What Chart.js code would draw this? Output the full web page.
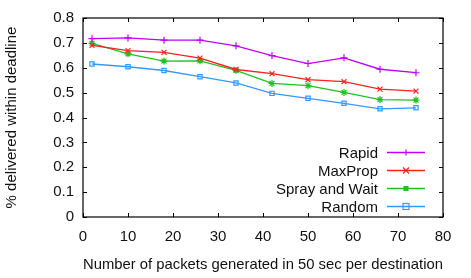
<!DOCTYPE html>
<html lang="en">
<head>
  <meta charset="UTF-8">
  <title>Delivery within deadline</title>
  <script src="https://cdn.jsdelivr.net/npm/chart.js"></script>
  <style>
    html, body { margin: 0; padding: 0; background: #fff; }
    #wrap { width: 471px; height: 278px; }
  </style>
</head>
<body>
  <div id="wrap"><canvas id="grafico" width="471" height="278"></canvas></div>

  <script>
    // packets generated in 50 sec per destination
    const packets = [2, 10, 18, 26, 34, 42, 50, 58, 66, 74];

    const seriesNames = ["Rapid", "MaxProp", "Spray and Wait", "Random"];
    const rapid    = [0.717, 0.720, 0.711, 0.711, 0.688, 0.649, 0.617, 0.640, 0.594, 0.580];
    const maxProp  = [0.690, 0.669, 0.662, 0.639, 0.593, 0.576, 0.552, 0.544, 0.514, 0.506];
    const sprayWait = [0.698, 0.656, 0.627, 0.628, 0.589, 0.537, 0.528, 0.501, 0.472, 0.470];
    const randomR  = [0.615, 0.604, 0.589, 0.564, 0.539, 0.497, 0.477, 0.457, 0.435, 0.439];

    const xTicks = [0, 10, 20, 30, 40, 50, 60, 70, 80];
    const yTicks = [0, 0.1, 0.2, 0.3, 0.4, 0.5, 0.6, 0.7, 0.8];

    const colores = ["#c000ff", "#ff2020", "#20c020", "#3399ff"];
    const estilos = ["cross", "crossRot", "star", "rect"];
    const valores = [rapid, maxProp, sprayWait, randomR];

    const font = "'Liberation Sans', Arial, sans-serif";
    const fs = 15;

    const datasets = seriesNames.map((name, i) => ({
      label: name,
      data: packets.map((x, j) => ({ x, y: valores[i][j] })),
      borderColor: colores[i],
      backgroundColor: i === 2 ? colores[i] : "transparent",
      borderWidth: 1.3,
      pointStyle: estilos[i],
      pointRadius: i === 3 ? 3 : 3.5,
      pointBorderWidth: 1.2,
      pointBackgroundColor: i === 2 ? colores[i] : "transparent",
      tension: 0
    }));

    // frame with inward ticks + legend inside plot (gnuplot look)
    const marco = {
      id: "marco",
      afterDatasetsDraw(chart) {
        const { ctx, chartArea: a, scales } = chart;
        ctx.save();
        ctx.strokeStyle = "#000";
        ctx.lineWidth = 1.2;
        ctx.strokeRect(a.left, a.top, a.right - a.left, a.bottom - a.top);
        ctx.lineWidth = 1;
        xTicks.forEach(v => {
          const px = Math.round(scales.x.getPixelForValue(v)) + 0.5;
          ctx.beginPath();
          ctx.moveTo(px, a.bottom); ctx.lineTo(px, a.bottom - 4);
          ctx.moveTo(px, a.top); ctx.lineTo(px, a.top + 4);
          ctx.stroke();
        });
        yTicks.forEach(v => {
          const py = Math.round(scales.y.getPixelForValue(v)) + 0.5;
          ctx.beginPath();
          ctx.moveTo(a.left, py); ctx.lineTo(a.left + 4, py);
          ctx.moveTo(a.right, py); ctx.lineTo(a.right - 4, py);
          ctx.stroke();
        });

        // legend
        ctx.font = fs + "px " + font;
        ctx.textAlign = "right";
        ctx.textBaseline = "middle";
        chart.data.datasets.forEach((ds, i) => {
          const y = a.bottom - 64.5 + i * 18;
          ctx.fillStyle = "#111";
          ctx.fillText(ds.label, a.right - 65, y + 1);
          ctx.strokeStyle = ds.borderColor;
          ctx.lineWidth = 1.6;
          ctx.beginPath();
          ctx.moveTo(a.right - 56, y); ctx.lineTo(a.right - 18, y);
          ctx.stroke();
          drawMarker(ctx, ds.pointStyle, a.right - 37, y, ds.borderColor);
        });
        ctx.restore();
      }
    };

    function drawMarker(ctx, estilo, x, y, color) {
      const r = 3;
      ctx.strokeStyle = color;
      ctx.fillStyle = color;
      ctx.lineWidth = 1.2;
      ctx.beginPath();
      if (estilo === "cross") {
        ctx.moveTo(x - r, y); ctx.lineTo(x + r, y);
        ctx.moveTo(x, y - r); ctx.lineTo(x, y + r);
        ctx.stroke();
      } else if (estilo === "crossRot") {
        ctx.moveTo(x - r, y - r); ctx.lineTo(x + r, y + r);
        ctx.moveTo(x - r, y + r); ctx.lineTo(x + r, y - r);
        ctx.stroke();
      } else if (estilo === "star") {
        ctx.fillRect(x - 2.5, y - 2.5, 5, 5);
      } else {
        ctx.strokeRect(x - 3, y - 3, 6, 6);
      }
    }

    const ctx = document.getElementById("grafico").getContext("2d");
    new Chart(ctx, {
      type: "line",
      data: { datasets },
      plugins: [marco],
      options: {
        responsive: false,
        animation: false,
        layout: { padding: { top: 13, right: 28, left: 0, bottom: 0 } },
        plugins: { legend: { display: false }, tooltip: { enabled: false } },
        scales: {
          x: {
            type: "linear",
            min: 0, max: 80,
            afterBuildTicks: s => { s.ticks = xTicks.map(v => ({ value: v })); },
            afterFit: s => { s.height = 61; },
            grid: { display: false, drawTicks: false },
            border: { display: false },
            ticks: { color: "#111", font: { family: font, size: fs }, padding: 11, maxRotation: 0 },
            title: { display: true, text: "Number of packets generated in 50 sec per destination",
                     color: "#111", font: { family: font, size: fs }, padding: { top: 4 } }
          },
          y: {
            min: 0, max: 0.8,
            afterBuildTicks: s => { s.ticks = yTicks.map(v => ({ value: v })); },
            afterFit: s => { s.width = 83; },
            grid: { display: false, drawTicks: false },
            border: { display: false },
            ticks: { color: "#111", font: { family: font, size: fs }, padding: 9,
                     callback: v => (v === 0 ? "0" : v.toFixed(1)) },
            title: { display: true, text: "% delivered within deadline",
                     color: "#111", font: { family: font, size: fs }, padding: { top: 3, bottom: 0 } }
          }
        }
      }
    });
  </script>
</body>
</html>
